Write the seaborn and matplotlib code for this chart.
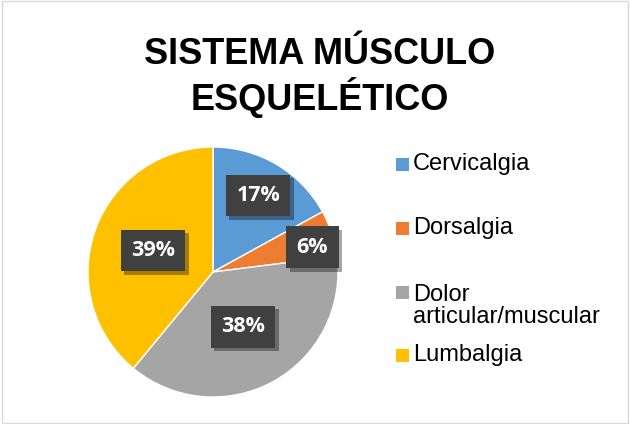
import numpy as np
import seaborn as sns
import matplotlib.pyplot as plt
import matplotlib.patheffects as pe
from matplotlib.patches import Rectangle

sns.set_theme(style="white")
plt.rcParams['font.family'] = ['Liberation Sans', 'DejaVu Sans']

categories = ['Cervicalgia', 'Dorsalgia', 'Dolor\narticular/muscular', 'Lumbalgia']
values = [17, 6, 38, 39]
colors = ['#5B9BD5', '#ED7D31', '#A5A5A5', '#FFC000']
# radial position of each data label (fraction of radius)
label_r = [0.71, 0.82, 0.50, 0.51]

fig = plt.figure(figsize=(6.3, 4.24), dpi=100)
fig.patches.append(Rectangle((0.003, 0.003), 0.994, 0.994, transform=fig.transFigure,
                             fill=False, edgecolor='#D9D9D9', linewidth=1))

ax = fig.add_axes([88 / 630, 1 - 397 / 424, 250 / 630, 250 / 424])
wedges, _ = ax.pie(values, colors=colors, startangle=90, counterclock=False,
                   wedgeprops=dict(linewidth=1, edgecolor='white'))
ax.set_aspect('equal')
ax.set_xlim(-1, 1)
ax.set_ylim(-1, 1)

for w, v, r in zip(wedges, values, label_r):
    ang = np.deg2rad((w.theta1 + w.theta2) / 2)
    if v == 6:
        ang -= np.deg2rad(4)
    t = ax.text(r * np.cos(ang), r * np.sin(ang), f'{v}%', ha='center', va='center',
                fontsize=15.5, fontweight='bold', color='white', family='Open Sans',
                bbox=dict(boxstyle='square,pad=0.48', facecolor='#404040', edgecolor='none'))
    t.get_bbox_patch().set_path_effects([
        pe.SimplePatchShadow(offset=(2.5, -2.5), shadow_rgbFace='black', alpha=0.35),
        pe.Normal()])

fig.text(0.508, 0.818, 'SISTEMA MÚSCULO\nESQUELÉTICO', ha='center', va='center',
         fontsize=26, fontweight='bold', color='#000000', linespacing=1.15)

# legend drawn entry by entry to follow the reference spacing
legend_y = [164, 228, 292, 355]
line_h = 28
for lab, c, yy in zip(categories, colors, legend_y):
    yf = 1 - yy / 424
    fig.patches.append(Rectangle((396 / 630, yf - 6.5 / 424), 13 / 630, 13 / 424,
                                 transform=fig.transFigure, facecolor=c, edgecolor='none'))
    n = lab.count('\n')
    ty = 1 - (yy + n * line_h / 2) / 424
    fig.text(413 / 630, ty, lab, ha='left', va='center', fontsize=17, color='#000000',
             linespacing=1.05)

fig.savefig('out.png', dpi=100)
